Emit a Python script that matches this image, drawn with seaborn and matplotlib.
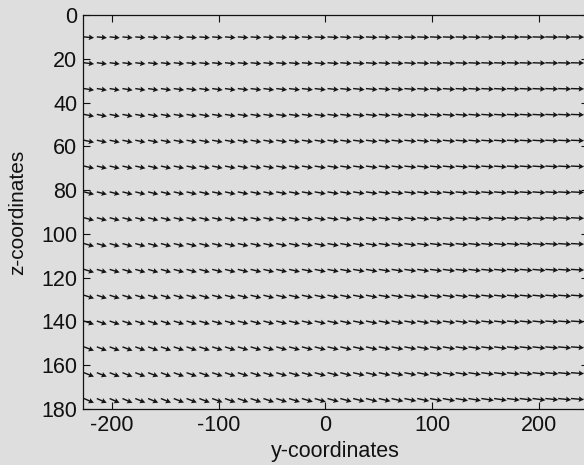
import numpy as np
import matplotlib
matplotlib.use("Agg")
import matplotlib.pyplot as plt
import seaborn as sns

# grid of arrow tails (y along columns, z along rows)
z_rows = [10, 21.8, 33.6, 45.4, 57.2, 69.0, 80.8, 92.6, 104.4, 116.2,
          128.0, 139.8, 151.6, 163.4, 175.2]
y_cols = np.arange(-226, 243, 12)

# downward tilt (deg, in data units) of arrows on the left side, per row
row_tilt = [2.5, 3.5, 4.5, 5.5, 6.0, 6.5, 7.0, 7.5, 8.0, 8.5,
            9.0, 9.5, 10.5, 11.0, 12.0]
# how much of that tilt remains across the columns (left -> right)
col_tilt = [1.0, 1.0, 1.0, 1.0, 0.95, 0.95, 0.95, 0.9, 0.9, 0.9,
            0.85, 0.85, 0.8, 0.8, 0.8, 0.75, 0.75, 0.7, 0.7, 0.65,
            0.65, 0.6, 0.6, 0.55, 0.55, 0.5, 0.5, 0.45, 0.45, 0.4,
            0.4, 0.35, 0.35, 0.3, 0.3, 0.3, 0.25, 0.25, 0.2, 0.2]
# arrow length per column (data units)
col_len = [9.5, 9.5, 9.5, 9.6, 9.6, 9.7, 9.7, 9.8, 9.8, 9.9,
           9.9, 10.0, 10.0, 10.1, 10.1, 10.2, 10.3, 10.4, 10.5, 10.6,
           10.7, 10.8, 10.9, 11.0, 11.1, 11.2, 11.3, 11.4, 11.5, 11.6,
           11.7, 11.8, 11.9, 12.0, 12.0, 12.1, 12.1, 12.2, 12.2, 12.3]

sns.set_theme(style="ticks")
plt.rcParams["font.family"] = ["Liberation Sans", "DejaVu Sans"]
plt.rcParams["axes.unicode_minus"] = False

bg = "#dedede"
fig = plt.figure(figsize=(5.84, 4.65), dpi=100, facecolor=bg)
ax = fig.add_axes([0.142, 0.1204, 0.865, 0.8473])
ax.set_facecolor(bg)

Y, Z = np.meshgrid(y_cols, z_rows)
ang = np.deg2rad(np.outer(row_tilt, col_tilt))
L = np.tile(col_len, (len(z_rows), 1))
U = L * np.cos(ang)
W = L * np.sin(ang)

ax.quiver(Y, Z, U, W, angles="xy", scale_units="xy", scale=1,
          color="#151515", width=0.0028, headwidth=4, headlength=3.8,
          headaxislength=3.3, clip_on=True)

ax.set_xlim(-227, 246)
ax.set_ylim(180, 0)
ax.set_xticks([-200, -100, 0, 100, 200])
ax.set_yticks(range(0, 181, 20))
ax.tick_params(direction="in", length=5, width=0.8, colors="#111111",
               labelsize=15.5, top=True, right=True, pad=4)
for s in ax.spines.values():
    s.set_linewidth(0.9)
    s.set_color("#111111")
ax.set_xlabel("y-coordinates", fontsize=15.5, color="#111111", labelpad=4)
ax.set_ylabel("z-coordinates", fontsize=15, color="#111111", labelpad=10)

fig.savefig("out.png", dpi=100, facecolor=bg)
